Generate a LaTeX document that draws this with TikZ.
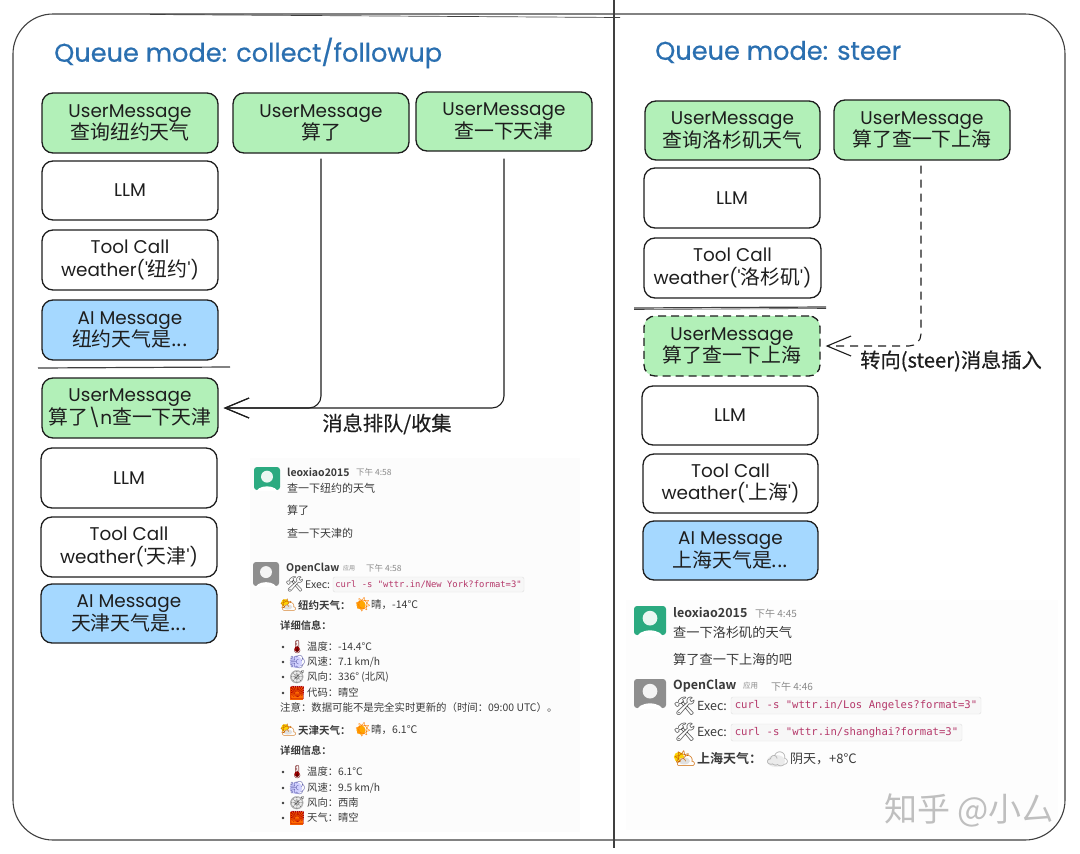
\documentclass[tikz,border=0pt]{standalone}
\usepackage{fontspec}
\usetikzlibrary{arrows.meta,calc}
\setmainfont{Poppins}
\newfontfamily\cjk{Noto Sans CJK SC}
\newfontfamily\cjkb{Noto Sans CJK SC}[UprightFont=* Bold]
\newfontfamily\cjkbox{Noto Sans CJK SC}[Scale=1.08]
\newfontfamily\cjknote{Noto Sans CJK SC}[FakeBold=0.5]
\newfontfamily\lat{Poppins}
\newfontfamily\latt{Poppins}[FakeBold=0.5]
\newfontfamily\monof{DejaVu Sans Mono}
\newfontfamily\emo{Noto Emoji}
\newcommand{\zh}[1]{{\cjkbox #1}}
\definecolor{ugreen}{HTML}{B2F0B8}
\definecolor{ablue}{HTML}{A5D8FF}
\definecolor{inkc}{HTML}{1E1E1E}
\definecolor{titlec}{HTML}{2A6FB0}
\definecolor{codec}{HTML}{B5386A}
\definecolor{greyt}{HTML}{8A8A8A}
\definecolor{chatt}{HTML}{3A3A3A}
\definecolor{avgreen}{HTML}{2BAA80}
\definecolor{avgrey}{HTML}{8E8E8E}
\tikzset{
  boxbase/.style={draw=inkc,line width=1.3pt,rounded corners=11pt,inner sep=0pt,align=center,
    text=inkc,font=\lat\fontsize{18.4}{22.5}\selectfont},
  userbox/.style={boxbase,fill=ugreen},
  plainbox/.style={boxbase,fill=white},
  aibox/.style={boxbase,fill=ablue},
  dashbox/.style={boxbase,fill=ugreen,dashed,dash pattern=on 8pt off 5pt},
  frameline/.style={draw=inkc!85,line width=1.1pt},
  conn/.style={draw=inkc,line width=1.1pt,rounded corners=12pt,-{Straight Barb[length=24pt,width=20pt,line width=1.1pt]}},
  titlet/.style={anchor=west,inner sep=0pt,text=titlec,font=\latt\fontsize{25.6}{28}\selectfont},
  notet/.style={inner sep=0pt,text=inkc,font=\cjknote\fontsize{20.2}{22}\selectfont},
  sepline/.style={draw=inkc!85,line width=1.2pt},
}
% small chat text
\newcounter{ct}
\newcommand{\ct}[5][]{\stepcounter{ct}\node[anchor=west,inner sep=0pt,text=chatt,font=\fontsize{#2}{#2}\selectfont,#1] (t\arabic{ct}) at (#3,#4) {#5};}
\newcommand{\boxnode}[7]{\node[#6,minimum width={(#4-#2)*1pt},minimum height={(#5-#3)*1pt}] (#1) at ({(#2+#4)/2},{(#3+#5)/2}) {#7};}
\newcommand{\avatar}[6]{% name x1 y1 x2 y2 colour
  \node[fill=#6,rounded corners=3pt,inner sep=0pt,minimum width={(#4-#2)*1pt},minimum height={(#5-#3)*1pt}] (#1) at ({(#2+#4)/2},{(#3+#5)/2}) {};
  \begin{scope}
    \clip ({#2},{#3}) rectangle ({#4},{#5});
    \fill[white!90!#6] ({(#2+#4)/2},{#3+(#5-#3)*0.42}) circle ({(#4-#2)*0.23});
    \fill[white] ({(#2+#4)/2},{#5+(#5-#3)*0.12}) ellipse ({(#4-#2)*0.42} and {(#5-#3)*0.28});
  \end{scope}}
\newcommand{\codebox}[7]{% name x1 y1 x2 y2 size text
  \node[draw=black!12,fill=black!3,rounded corners=2pt,inner sep=0pt,text=codec,font=\monof\fontsize{#6}{#6}\selectfont,minimum width={(#4-#2)*1pt},minimum height={(#5-#3)*1pt}] (#1) at ({(#2+#4)/2},{(#3+#5)/2}) {#7};}
\begin{document}
\begin{tikzpicture}[x=1pt,y=-1pt]
\useasboundingbox (0,0) rectangle (1080,854);
\fill[white] (0,0) rectangle (1080,854);
% chat backdrops
\fill[black!1.2] (250,458) rectangle (580,832);
\fill[black!0.8] (626,600) rectangle (1058,830);
% frame
\draw[frameline,rounded corners=40pt] (13,14) rectangle (1065,840);
\draw[frameline,line width=.7pt] (150,14.5) -- (620,17.5);
\draw[frameline,line width=1.3pt] (614,0) -- (614,848);
% titles
\node[titlet] (tl) at (54,53) {Queue mode: collect/followup};
\node[titlet] (tr) at (655,52) {Queue mode: steer};
% left column
\boxnode{a1}{42}{93}{218}{153}{userbox}{UserMessage\\\zh{查询纽约天气}}
\boxnode{a2}{42}{161}{218}{220}{plainbox}{LLM}
\boxnode{a3}{42}{230}{218}{290}{plainbox}{Tool Call\\weather('\zh{纽约}')}
\boxnode{a4}{42}{300}{218}{360}{aibox}{AI Message\\\zh{纽约天气是...}}
\draw[sepline] (38,368) -- (230,367);
\boxnode{a5}{42}{378}{218}{438}{userbox}{UserMessage\\\zh{算了}\textbackslash n\zh{查一下天津}}
\boxnode{a6}{41}{448}{217}{508}{plainbox}{LLM}
\boxnode{a7}{41}{517}{217}{577}{plainbox}{Tool Call\\weather('\zh{天津}')}
\boxnode{a8}{41}{584}{217}{643}{aibox}{AI Message\\\zh{天津天气是...}}
\boxnode{b1}{233}{93}{409}{153}{userbox}{UserMessage\\\zh{算了}}
\boxnode{b2}{416}{92}{592}{151}{userbox}{UserMessage\\\zh{查一下天津}}
\draw[conn] ([yshift=-5pt]b1.south) |- ([xshift=5pt]a5.east);
\draw[conn] ([yshift=-7pt]b2.south) |- ([xshift=5pt]a5.east);
\node[notet] (nl) at (387,424) {消息排队/收集};
% right column
\boxnode{c1}{645}{101}{820}{160}{userbox}{UserMessage\\\zh{查询洛杉矶天气}}
\boxnode{c2}{644}{168}{820}{228}{plainbox}{LLM}
\boxnode{c3}{644}{238}{821}{298}{plainbox}{Tool Call\\weather('\zh{洛杉矶}')}
\draw[sepline] (634,308) -- (826,307);
\draw[sepline,line width=.6pt] (634,309.5) -- (826,308.5);
\boxnode{c4}{644}{316}{820}{376}{dashbox}{UserMessage\\\zh{算了查一下上海}}
\boxnode{c5}{642}{386}{818}{445}{plainbox}{LLM}
\boxnode{c6}{643}{454}{818}{513}{plainbox}{Tool Call\\weather('\zh{上海}')}
\boxnode{c7}{643}{521}{818}{580}{aibox}{AI Message\\\zh{上海天气是...}}
\boxnode{d1}{834}{100}{1010}{160}{userbox}{UserMessage\\\zh{算了查一下上海}}
\draw[conn,dash pattern=on 8pt off 6pt] ([yshift=-5pt]d1.south -| 921,160) |- ([xshift=5pt]c4.east);
\node[notet] (nr) at (951,361) {转向(steer)消息插入};
% chat left
\avatar{av1}{254}{467}{280}{490}{avgreen}
\avatar{av2}{253}{562}{279}{586}{avgrey}
\ct[font=\cjkb\fontsize{10.5}{11}\selectfont]{10.5}{287}{472}{leoxiao2015}
\ct[text=greyt,font=\cjk\fontsize{8.5}{9}\selectfont]{8.5}{356}{472}{下午 4:58}
\ct[font=\cjk\fontsize{11}{12}\selectfont]{11}{287}{488}{查一下纽约的天气}
\ct[font=\cjk\fontsize{11}{12}\selectfont]{11}{287}{510}{算了}
\ct[font=\cjk\fontsize{11}{12}\selectfont]{11}{287}{533}{查一下天津的}
\ct[font=\cjkb\fontsize{10.5}{11}\selectfont]{10.5}{286}{568}{OpenClaw}
\ct[text=greyt,font=\cjk\fontsize{6}{7}\selectfont]{6}{343}{568}{应用}
\ct[text=greyt,font=\cjk\fontsize{8.5}{9}\selectfont]{8.5}{366}{568}{下午 4:58}
\ct[font=\emo\fontsize{15}{15}\selectfont,text=black!70]{15}{285}{584}{🛠}
\ct[font=\cjk\fontsize{10.5}{11}\selectfont]{10.5}{305}{585}{Exec:}
\codebox{k1}{333}{577}{524}{592}{8.85}{curl -s "wttr.in/New York?format=3"}
% weather summary rows
\newcommand{\cloud}[3]{\fill[yellow!70!orange] ({#1+5},{#2-2}) circle ({#3*0.3});\fill[black!12] ({#1+#3*0.6},{#2+2}) ellipse ({#3*0.34} and {#3*0.2});
  \ct[font=\emo\fontsize{#3}{#3}\selectfont,text=orange!80!black]{#3}{#1}{#2}{⛅}}
\newcommand{\sun}[2]{\fill[orange!70!yellow] ({#1+7},{#2}) circle (4.6);\ct[font=\emo\fontsize{14}{14}\selectfont,text=orange]{14}{#1}{#2}{☀}}
\newcommand{\bullrow}[5]{%
  \fill[chatt] (283,#1) circle (1.4);
  #2
  \ct[font=\emo\fontsize{13}{13}\selectfont,text=#5]{13}{289}{#1}{#3}
  \ct[font=\cjk\fontsize{10.3}{11}\selectfont]{10.3}{307}{#1}{#4}}
\newcommand{\thermrow}[2]{\bullrow{#1}{\fill[red!75!black] (297,{#1+2}) circle (2.6);}{🌡}{#2}{red!40!black}}
\newcommand{\windrow}[2]{\bullrow{#1}{\fill[blue!18!white] (296,#1) circle (6);}{💨}{#2}{blue!30!gray}}
\newcommand{\comprow}[2]{\bullrow{#1}{\fill[black!8] (296,#1) circle (6);}{🧭}{#2}{black!60}}
\newcommand{\sunsetrow}[2]{\bullrow{#1}{\fill[orange!85!red] (290,{#1-6.5}) rectangle (303,{#1+6.5});}{🌅}{#2}{red!70!black}}
\cloud{280}{605}{13}
\ct[font=\cjkb\fontsize{10.5}{11}\selectfont]{10.5}{298}{605}{纽约天气：}
\sun{354}{605}
\ct[font=\cjk\fontsize{10.5}{11}\selectfont]{10.5}{371}{605}{晴，-14°C}
\ct[font=\cjkb\fontsize{10.3}{11}\selectfont]{10.3}{280}{626}{详细信息：}
\thermrow{647}{温度：-14.4°C}
\windrow{662}{风速：7.1 km/h}
\comprow{677}{风向：336° (北风)}
\sunsetrow{693}{代码：晴空}
\ct[font=\cjk\fontsize{10.4}{11}\selectfont]{10.4}{280}{708}{注意：数据可能不是完全实时更新的（时间：09:00 UTC）。}
\cloud{280}{730}{13}
\ct[font=\cjkb\fontsize{10.5}{11}\selectfont]{10.5}{298}{730}{天津天气：}
\sun{354}{730}
\ct[font=\cjk\fontsize{10.5}{11}\selectfont]{10.5}{371}{730}{晴，6.1°C}
\ct[font=\cjkb\fontsize{10.3}{11}\selectfont]{10.3}{280}{751}{详细信息：}
\thermrow{772}{温度：6.1°C}
\windrow{788}{风速：9.5 km/h}
\comprow{803}{风向：西南}
\sunsetrow{818}{天气：晴空}
% chat right
\avatar{av3}{634}{606}{666}{635}{avgreen}
\avatar{av4}{634}{679}{666}{708}{avgrey}
\ct[font=\cjkb\fontsize{12.5}{13}\selectfont]{12.5}{673}{613}{leoxiao2015}
\ct[text=greyt,font=\cjk\fontsize{10}{11}\selectfont]{10}{755}{614}{下午 4:45}
\ct[font=\cjk\fontsize{13.2}{14}\selectfont]{13.2}{673}{632}{查一下洛杉矶的天气}
\ct[font=\cjk\fontsize{13.2}{14}\selectfont]{13.2}{673}{659}{算了查一下上海的吧}
\ct[font=\cjkb\fontsize{12.5}{13}\selectfont]{12.5}{673}{686}{OpenClaw}
\ct[text=greyt,font=\cjk\fontsize{7.5}{8}\selectfont]{7.5}{743}{686}{应用}
\ct[text=greyt,font=\cjk\fontsize{10}{11}\selectfont]{10}{771}{687}{下午 4:46}
\ct[font=\emo\fontsize{18}{18}\selectfont,text=black!70]{18}{673}{706}{🛠}
\ct[font=\cjk\fontsize{12.5}{13}\selectfont]{12.5}{697}{706}{Exec:}
\codebox{k2}{731}{697}{981}{714}{10.6}{curl -s "wttr.in/Los Angeles?format=3"}
\ct[font=\emo\fontsize{18}{18}\selectfont,text=black!70]{18}{673}{732}{🛠}
\ct[font=\cjk\fontsize{12.5}{13}\selectfont]{12.5}{697}{732}{Exec:}
\codebox{k3}{731}{724}{962}{741}{10.6}{curl -s "wttr.in/shanghai?format=3"}
\cloud{674}{759}{17}
\ct[font=\cjkb\fontsize{13}{14}\selectfont]{13}{697}{759}{上海天气：}
\fill[black!8] (776,761) ellipse (9 and 6);
\ct[font=\emo\fontsize{18}{18}\selectfont,text=black!35]{18}{766}{759}{☁}
\ct[font=\cjk\fontsize{13}{14}\selectfont]{13}{790}{759}{阴天，+8°C}
% watermark
\ct[text=black!25,font=\cjk\fontsize{33}{34}\selectfont]{33}{884}{810}{知乎 @小厶}
\end{tikzpicture}
\end{document}
